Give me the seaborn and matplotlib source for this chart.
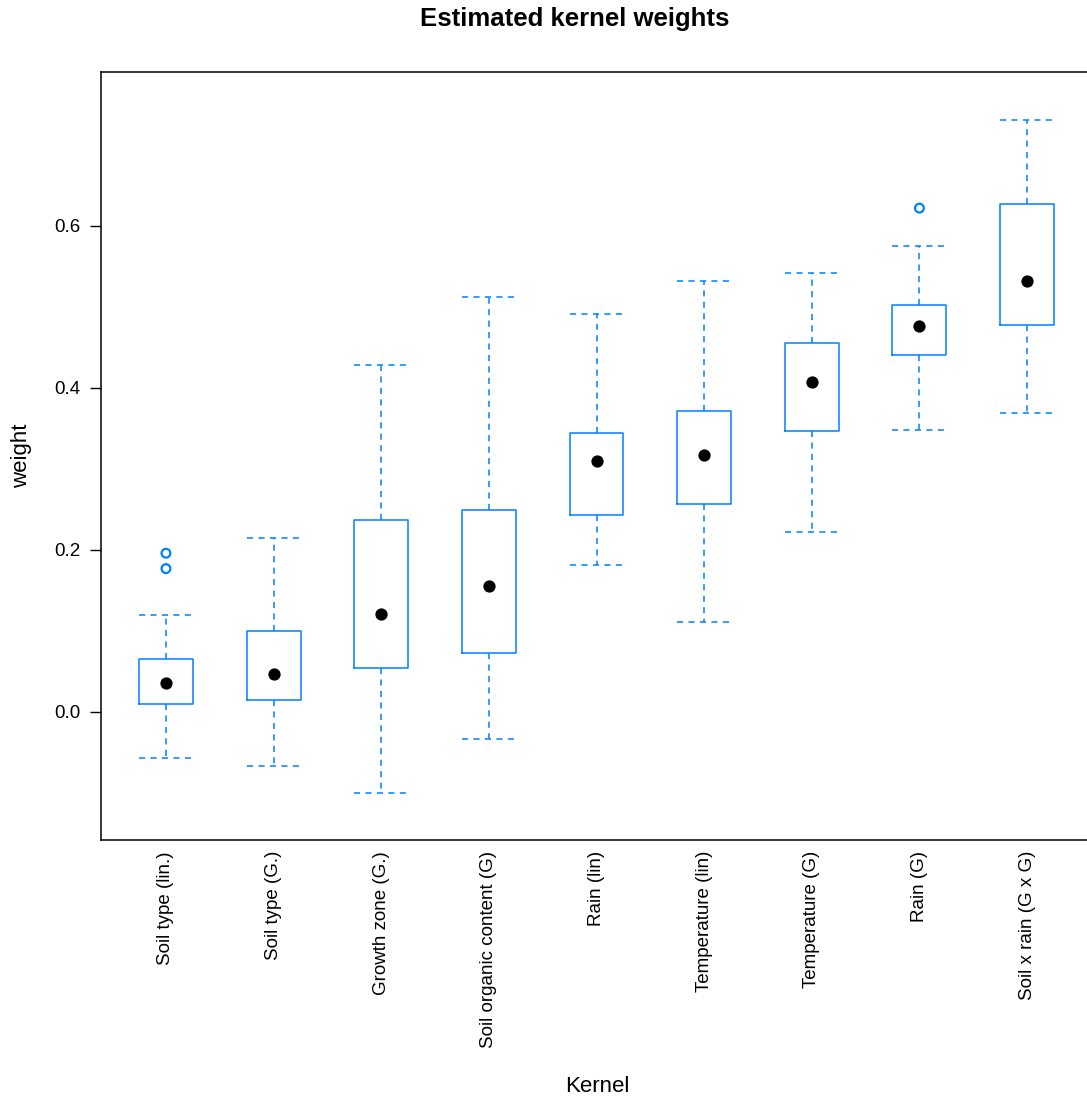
import numpy as np
import pandas as pd
import matplotlib
matplotlib.use("Agg")
import matplotlib.pyplot as plt
import seaborn as sns

kernels = ["Soil type (lin.)", "Soil type (G.)", "Growth zone (G.)",
           "Soil organic content (G)", "Rain (lin)", "Temperature (lin)",
           "Temperature (G)", "Rain (G)", "Soil x rain (G x G)"]
lower_whisker = [-0.057, -0.067, -0.100, -0.033, 0.181, 0.111, 0.222, 0.348, 0.369]
q1 = [0.010, 0.015, 0.054, 0.073, 0.243, 0.257, 0.347, 0.441, 0.478]
median = [0.036, 0.047, 0.121, 0.156, 0.310, 0.317, 0.407, 0.477, 0.532]
q3 = [0.065, 0.100, 0.237, 0.249, 0.344, 0.372, 0.456, 0.502, 0.627]
upper_whisker = [0.120, 0.215, 0.428, 0.512, 0.491, 0.532, 0.542, 0.575, 0.731]
outlier_kernel = ["Soil type (lin.)", "Soil type (lin.)", "Rain (G)"]
outlier_value = [0.196, 0.177, 0.622]
yticks = [0.0, 0.2, 0.4, 0.6]

BLUE = "#0080ff"

rows = []
for i, k in enumerate(kernels):
    for v in (lower_whisker[i], q1[i], median[i], q3[i], upper_whisker[i]):
        rows.append({"Kernel": k, "weight": v})
df = pd.DataFrame(rows)

sns.set_style("white")
plt.rcParams["font.family"] = ["Liberation Sans", "DejaVu Sans"]
plt.rcParams["text.color"] = "black"
plt.rcParams["xtick.color"] = "black"
plt.rcParams["ytick.color"] = "black"
plt.rcParams["axes.labelcolor"] = "black"
plt.rcParams["axes.edgecolor"] = "black"

fig = plt.figure(figsize=(10.87, 11.02), dpi=100)
ax = fig.add_axes([101.4 / 1087, 1 - 840 / 1102, 990.2 / 1087, 768 / 1102])

dash = (0, (4.0, 3.5))
sns.boxplot(data=df, x="Kernel", y="weight", order=kernels, ax=ax,
            whis=(0, 100), width=0.5, fill=False, color=BLUE, linewidth=1.1,
            showfliers=False, capwidths=0.5,
            boxprops=dict(color=BLUE, linewidth=1.1),
            whiskerprops=dict(color=BLUE, linewidth=1.1, linestyle=dash),
            capprops=dict(color=BLUE, linewidth=1.1, linestyle=dash),
            medianprops=dict(visible=False))

pos = {k: i for i, k in enumerate(kernels)}
sns.scatterplot(x=np.arange(len(kernels)), y=median, ax=ax, color="black",
                s=78, edgecolor="black", linewidth=0, zorder=5, legend=False)
sns.scatterplot(x=[pos[k] for k in outlier_kernel], y=outlier_value, ax=ax,
                facecolor="none", edgecolor=BLUE, s=40, linewidth=1.6,
                zorder=5, legend=False)

ax.set_xlim(-0.6, len(kernels) - 0.4)
ax.set_ylim(-0.158, 0.790)
ax.set_yticks(yticks)
ax.set_yticklabels([f"{t:.1f}" for t in yticks], fontsize=13.5, color="black")
ax.set_xticks(np.arange(len(kernels)))
ax.set_xticklabels(kernels, rotation=90, fontsize=13.5, va="top", ha="center",
                   color="black")
ax.tick_params(axis="x", length=0, pad=8)
ax.tick_params(axis="y", length=8, width=1.0, pad=7, direction="out", left=True,
               color="black")
ax.set_xlabel("")
ax.set_ylabel("")
for s in ax.spines.values():
    s.set_visible(True)
    s.set_color("black")
    s.set_linewidth(1.1)

fig.text(575 / 1087, 1 - 19 / 1102, "Estimated kernel weights", ha="center",
         va="center", fontsize=18.5, fontweight="bold", color="black")
fig.text(597 / 1087, 1 - 1086 / 1102, "Kernel", ha="center", va="center",
         fontsize=16, color="black")
fig.text(22 / 1087, 1 - 456 / 1102, "weight", ha="center", va="center",
         rotation=90, fontsize=16, color="black")

fig.savefig("out.png", dpi=100)
